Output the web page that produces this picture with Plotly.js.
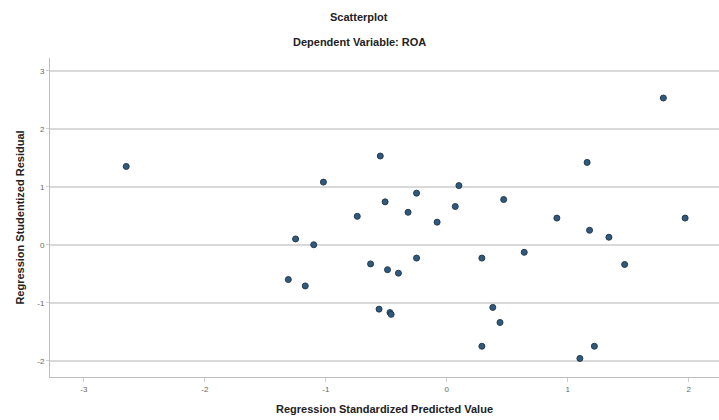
<!DOCTYPE html>
<html>
<head>
<meta charset="utf-8">
<script src="https://cdn.plot.ly/plotly-3.0.1.min.js"></script>
<style>html,body{margin:0;padding:0;background:#fff;}#chart{width:719px;height:420px;}</style>
</head>
<body>
<div id="chart"></div>
<script>
// Regression Standardized Predicted Value
const predicted = [-2.65, -1.02, -1.25, -1.10, -1.31, -1.17, -0.55, -0.74, -0.51, -0.32, -0.25, -0.08,
  0.10, 0.07, -0.63, -0.49, -0.40, -0.25, -0.56, -0.47, -0.46, 0.29, 0.29, 0.38, 0.44,
  1.79, 1.16, 0.47, 0.91, 1.97, 1.18, 1.34, 0.64, 1.47, 1.22, 1.10];
// Regression Studentized Residual
const residual = [1.35, 1.08, 0.10, 0.00, -0.60, -0.71, 1.53, 0.49, 0.74, 0.56, 0.89, 0.39,
  1.02, 0.66, -0.33, -0.43, -0.49, -0.23, -1.11, -1.17, -1.20, -0.23, -1.75, -1.08, -1.34,
  2.53, 1.42, 0.78, 0.46, 0.46, 0.25, 0.13, -0.13, -0.34, -1.75, -1.96];
const xTicks = [-3, -2, -1, 0, 1, 2];
const yTicks = [-2, -1, 0, 1, 2, 3];

const trace = {
  x: predicted, y: residual, type: 'scatter', mode: 'markers',
  marker: {size: 6, color: '#2f5a7e', line: {color: '#243b50', width: 1}},
  hoverinfo: 'x+y'
};

const layout = {
  width: 719, height: 420,
  margin: {l: 50, r: 0, t: 58, b: 43},
  paper_bgcolor: '#ffffff', plot_bgcolor: '#ffffff',
  font: {family: 'Liberation Sans, Arial, sans-serif', color: '#222'},
  showlegend: false,
  xaxis: {
    range: [-3.28, 2.25], tickvals: xTicks, ticktext: xTicks.map(String),
    showgrid: false, zeroline: false,
    showline: true, linecolor: '#bdbdbd', linewidth: 1,
    ticks: 'outside', ticklen: 4, tickcolor: '#d0d0d0',
    tickfont: {size: 8, color: '#666'},
    title: {text: 'Regression Standardized Predicted Value', font: {size: 11, color: '#222', weight: 'bold'}, standoff: 12}
  },
  yaxis: {
    range: [-2.28, 3.22], tickvals: yTicks, ticktext: yTicks.map(String),
    showgrid: true, gridcolor: '#d9d9d9', gridwidth: 1.5, zeroline: false,
    showline: true, linecolor: '#bdbdbd', linewidth: 1,
    ticks: 'outside', ticklen: 3, tickcolor: '#d0d0d0',
    tickfont: {size: 8, color: '#666'},
    title: {text: 'Regression Studentized Residual', font: {size: 11, color: '#222', weight: 'bold'}, standoff: 10}
  },
  annotations: [
    {text: '<b>Scatterplot</b>', xref: 'paper', yref: 'paper', x: 0.4626, y: 1.1285,
     xanchor: 'center', yanchor: 'middle', showarrow: false, font: {size: 11, color: '#222'}},
    {text: '<b>Dependent Variable: ROA</b>', xref: 'paper', yref: 'paper', x: 0.4626, y: 1.050,
     xanchor: 'center', yanchor: 'middle', showarrow: false, font: {size: 11, color: '#222'}}
  ]
};

Plotly.newPlot('chart', [trace], layout, {displayModeBar: false, staticPlot: true});
</script>
</body>
</html>
